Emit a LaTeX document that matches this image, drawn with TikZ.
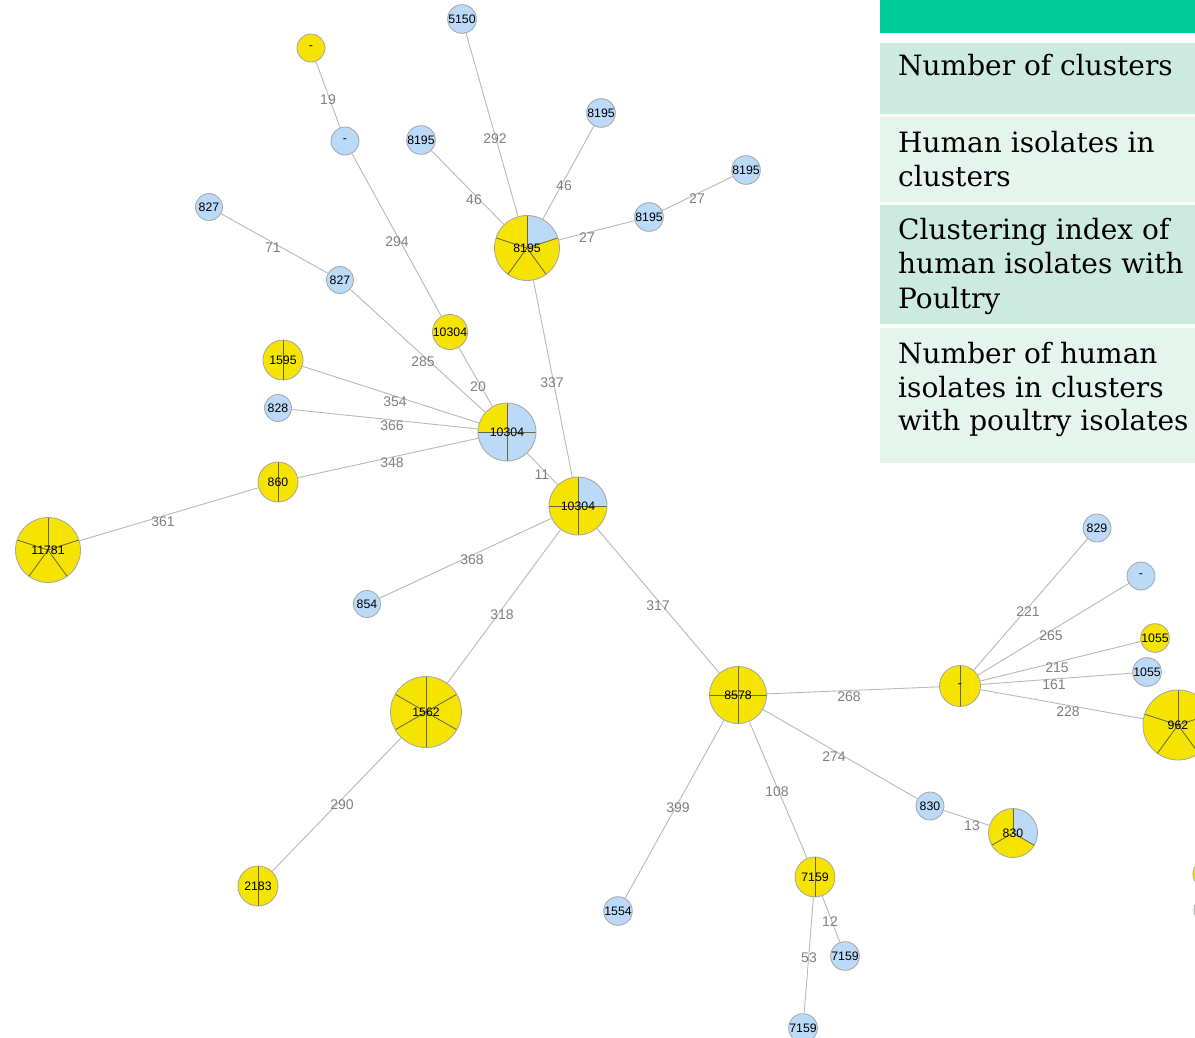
\documentclass[tikz,border=0pt]{standalone}
\usepackage{fontspec}
\newfontfamily\lsans{Liberation Sans}
\newfontfamily\dserif{DejaVu Serif}
\definecolor{edgec}{RGB}{185,185,185}
\definecolor{labc}{RGB}{128,128,128}
\definecolor{outc}{RGB}{165,165,165}
\definecolor{slicec}{RGB}{100,100,70}
\definecolor{bluec}{RGB}{187,218,248}
\definecolor{yelc}{RGB}{245,228,0}
\definecolor{headc}{RGB}{0,204,153}
\definecolor{rowa}{RGB}{204,234,223}
\definecolor{rowb}{RGB}{230,244,238}
\tikzset{
  edge/.style={draw=edgec, line width=0.9pt},
  elab/.style={text=labc, font=\lsans\fontsize{14}{14}\selectfont, inner sep=0pt},
  bnode/.style={circle, draw=outc, fill=bluec, line width=0.8pt, inner sep=0pt, font=\lsans\fontsize{12.3}{12.3}\selectfont},
  ynode/.style={bnode, fill=yelc},
  pnode/.style={circle, draw=outc, line width=0.8pt, inner sep=0pt, font=\lsans\fontsize{12.3}{12.3}\selectfont},
  slice/.style={draw=slicec, line width=0.8pt},
  ttext/.style={anchor=base west, inner sep=0pt, font=\dserif\fontsize{28}{28}\selectfont},
}
% base disc, optional sector, slice lines
\newcommand\piebase[4]{% x, y, r, basecolour
  \fill[#4] (#1,#2) circle[radius=#3];}
\newcommand\piesector[6]{% x,y,r,start,end,colour
  \fill[#6] (#1,#2) -- ++(#4:#3) arc[start angle=#4, end angle=#5, radius=#3] -- cycle;}
\newcommand\pielines[4]{% x,y,r,angles
  \foreach \a in {#4} \draw[slice] (#1,#2) -- ++(\a:#3);}
\begin{document}
\begin{tikzpicture}[x=1pt,y=1pt]
\useasboundingbox (0,0) rectangle (1195,-1037);
\clip (0,0) rectangle (1195,-1037);
\fill[white] (0,0) rectangle (1195,-1037);

% ---------- table ----------
\fill[headc] (880,0) rectangle (1195,-33);
\fill[rowa] (880,-43) rectangle (1195,-114);
\fill[rowb] (880,-117) rectangle (1195,-202);
\fill[rowa] (880,-205) rectangle (1195,-324);
\fill[rowb] (880,-328) rectangle (1195,-463);
\node[ttext] (t1) at (898,-75) {Number of clusters};
\node[ttext] (t2a) at (898,-152) {Human isolates in};
\node[ttext] (t2b) at (898,-186) {clusters};
\node[ttext] (t3a) at (898,-239) {Clustering index of};
\node[ttext] (t3b) at (898,-273) {human isolates with};
\node[ttext] (t3c) at (898,-308) {Poultry};
\node[ttext] (t4a) at (898,-363) {Number of human};
\node[ttext] (t4b) at (898,-397) {isolates in clusters};
\node[ttext] (t4c) at (898,-430) {with poultry isolates};

% ---------- pie backgrounds ----------
% 8195 big
\piebase{527}{-248}{32.5}{yelc}
\piesector{527}{-248}{32.5}{18}{90}{bluec}
\pielines{527}{-248}{32.5}{90,18,-54,-126,162}
% 1595
\piebase{283}{-360}{20}{yelc}
\pielines{283}{-360}{20}{90,-90}
% 10304 a
\piebase{507}{-432}{29}{bluec}
\piesector{507}{-432}{29}{90}{180}{yelc}
\pielines{507}{-432}{29}{0,90,180,270}
% 860
\piebase{278}{-482}{20}{yelc}
\pielines{278}{-482}{20}{90,-90}
% 11781
\piebase{48}{-550}{32.5}{yelc}
\pielines{48}{-550}{32.5}{90,18,-54,-126,162}
% 10304 b
\piebase{578}{-506}{29}{yelc}
\piesector{578}{-506}{29}{0}{90}{bluec}
\pielines{578}{-506}{29}{0,90,180,270}
% 1562
\piebase{426}{-712}{35.5}{yelc}
\pielines{426}{-712}{35.5}{90,30,-30,-90,-150,150}
% 2183
\piebase{258}{-886}{20}{yelc}
\pielines{258}{-886}{20}{90,-90}
% 8578
\piebase{738}{-695}{28.5}{yelc}
\pielines{738}{-695}{28.5}{0,90,180,270}
% 7159
\piebase{815}{-877}{20}{yelc}
\pielines{815}{-877}{20}{90,-90}
% 830 pie
\piebase{1013}{-833}{24.5}{yelc}
\piesector{1013}{-833}{24.5}{-30}{90}{bluec}
\pielines{1013}{-833}{24.5}{90,-30,-150}
% - yellow split
\piebase{960}{-686}{20.5}{yelc}
\pielines{960}{-686}{20.5}{90,-90}
% 962
\piebase{1178}{-725}{35}{yelc}
\pielines{1178}{-725}{35}{90,18,-54,-126,162}

% ---------- nodes ----------
\node[ynode, minimum size=28pt] (ydash1) at (311,-48) {-};
\node[bnode, minimum size=28pt] (bdash1) at (345,-141) {-};
\node[bnode, minimum size=27pt] (b5150) at (462,-19) {5150};
\node[bnode, minimum size=28pt] (b8195a) at (421,-140) {8195};
\node[bnode, minimum size=28pt] (b8195b) at (601,-113) {8195};
\node[bnode, minimum size=28pt] (b8195c) at (746,-170) {8195};
\node[bnode, minimum size=28pt] (b8195d) at (649,-217) {8195};
\node[pnode, minimum size=65pt] (p8195) at (527,-248) {8195};
\node[bnode, minimum size=27pt] (b827a) at (209,-207) {827};
\node[bnode, minimum size=27pt] (b827b) at (340,-280) {827};
\node[ynode, minimum size=29pt] (y10304) at (450,-332) {10304};
\node[pnode, minimum size=40pt] (p1595) at (283,-360) {1595};
\node[bnode, minimum size=27pt] (b828) at (278,-408) {828};
\node[pnode, minimum size=58pt] (p10304a) at (507,-432) {10304};
\node[pnode, minimum size=40pt] (p860) at (278,-482) {860};
\node[pnode, minimum size=65pt] (p11781) at (48,-550) {11781};
\node[pnode, minimum size=58pt] (p10304b) at (578,-506) {10304};
\node[bnode, minimum size=27pt] (b854) at (367,-604) {854};
\node[pnode, minimum size=71pt] (p1562) at (426,-712) {1562};
\node[pnode, minimum size=40pt] (p2183) at (258,-886) {2183};
\node[pnode, minimum size=57pt] (p8578) at (738,-695) {8578};
\node[bnode, minimum size=27pt] (b1554) at (618,-911) {1554};
\node[pnode, minimum size=40pt] (p7159) at (815,-877) {7159};
\node[bnode, minimum size=28pt] (b7159a) at (845,-956) {7159};
\node[bnode, minimum size=28pt] (b7159b) at (803,-1028) {7159};
\node[bnode, minimum size=28pt] (b830) at (930,-806) {830};
\node[pnode, minimum size=49pt] (p830) at (1013,-833) {830};
\node[pnode, minimum size=41pt] (pdash2) at (960,-686) {-};
\node[bnode, minimum size=28pt] (b829) at (1097,-528) {829};
\node[bnode, minimum size=28pt] (bdash2) at (1141,-576) {-};
\node[ynode, minimum size=28pt] (y1055) at (1155,-638) {1055};
\node[bnode, minimum size=28pt] (b1055) at (1147,-672) {1055};
\node[pnode, minimum size=70pt] (p962) at (1178,-725) {962};
\node[ynode, minimum size=30pt] (yedge) at (1208,-874) {};
\node[bnode, minimum size=28pt] (bedge) at (1208,-910) {};

% ---------- edges ----------
\draw[edge] (ydash1) -- (bdash1);
\draw[edge] (bdash1) -- (y10304);
\draw[edge] (b5150) -- (p8195);
\draw[edge] (b8195a) -- (p8195);
\draw[edge] (b8195b) -- (p8195);
\draw[edge] (b8195c) -- (b8195d);
\draw[edge] (b8195d) -- (p8195);
\draw[edge] (p8195) -- (p10304b);
\draw[edge] (b827a) -- (b827b);
\draw[edge] (b827b) -- (p10304a);
\draw[edge] (y10304) -- (p10304a);
\draw[edge] (p1595) -- (p10304a);
\draw[edge] (b828) -- (p10304a);
\draw[edge] (p860) -- (p10304a);
\draw[edge] (p11781) -- (p860);
\draw[edge] (p10304a) -- (p10304b);
\draw[edge] (b854) -- (p10304b);
\draw[edge] (p1562) -- (p10304b);
\draw[edge] (p2183) -- (p1562);
\draw[edge] (p10304b) -- (p8578);
\draw[edge] (p8578) -- (pdash2);
\draw[edge] (p8578) -- (b830);
\draw[edge] (p8578) -- (p7159);
\draw[edge] (p8578) -- (b1554);
\draw[edge] (b830) -- (p830);
\draw[edge] (p7159) -- (b7159a);
\draw[edge] (p7159) -- (b7159b);
\draw[edge] (pdash2) -- (b829);
\draw[edge] (pdash2) -- (bdash2);
\draw[edge] (pdash2) -- (y1055);
\draw[edge] (pdash2) -- (b1055);
\draw[edge] (pdash2) -- (p962);

% ---------- edge labels ----------
\node[elab] (l19) at (328,-100) {19};
\node[elab] (l294) at (397,-242) {294};
\node[elab] (l292) at (495,-139) {292};
\node[elab] (l46a) at (474,-200) {46};
\node[elab] (l46b) at (564,-186) {46};
\node[elab] (l27a) at (697,-199) {27};
\node[elab] (l27b) at (587,-238) {27};
\node[elab] (l337) at (552,-383) {337};
\node[elab] (l71) at (273,-248) {71};
\node[elab] (l285) at (423,-362) {285};
\node[elab] (l20) at (478,-387) {20};
\node[elab] (l354) at (395,-402) {354};
\node[elab] (l366) at (392,-426) {366};
\node[elab] (l348) at (392,-463) {348};
\node[elab] (l361) at (163,-522) {361};
\node[elab] (l11) at (542,-475) {11};
\node[elab] (l368) at (472,-560) {368};
\node[elab] (l318) at (502,-615) {318};
\node[elab] (l290) at (342,-805) {290};
\node[elab] (l317) at (658,-606) {317};
\node[elab] (l268) at (849,-697) {268};
\node[elab] (l274) at (834,-757) {274};
\node[elab] (l108) at (777,-792) {108};
\node[elab] (l399) at (678,-808) {399};
\node[elab] (l13) at (972,-826) {13};
\node[elab] (l12) at (830,-922) {12};
\node[elab] (l53) at (809,-958) {53};
\node[elab] (l221) at (1028,-612) {221};
\node[elab] (l265) at (1051,-636) {265};
\node[elab] (l215) at (1057,-668) {215};
\node[elab] (l161) at (1054,-685) {161};
\node[elab] (l228) at (1068,-712) {228};
\end{tikzpicture}
\end{document}
